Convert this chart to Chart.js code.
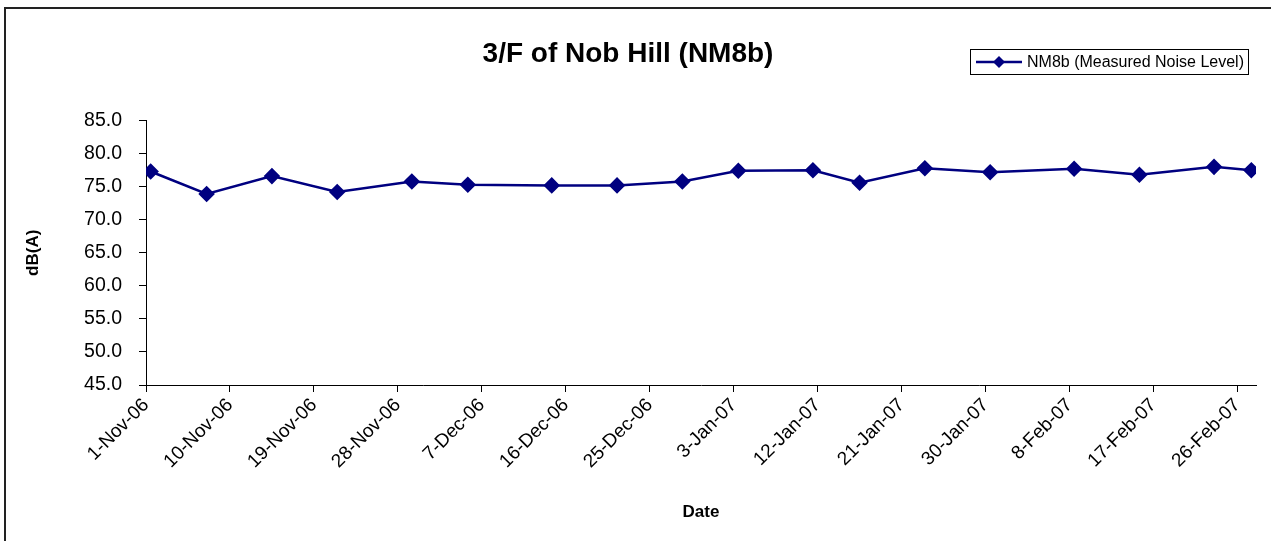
<!DOCTYPE html>
<html>
<head>
<meta charset="utf-8">
<script src="https://cdn.jsdelivr.net/npm/chart.js@4.4.1/dist/chart.umd.min.js"></script>
<style>
  html, body { margin: 0; padding: 0; background: #fff; }
</style>
</head>
<body>
<canvas id="noise-chart" width="1271" height="541"></canvas>
<script>
const seriesLabel = "NM8b (Measured Noise Level)";
const measureDates = [
  "2006-11-01", "2006-11-07", "2006-11-14", "2006-11-21", "2006-11-29", "2006-12-05",
  "2006-12-14", "2006-12-21", "2006-12-28", "2007-01-03", "2007-01-11", "2007-01-16",
  "2007-01-23", "2007-01-30", "2007-02-08", "2007-02-15", "2007-02-23", "2007-02-27"
];
const noiseLevels = [
  77.3, 73.9, 76.6, 74.2, 75.8, 75.3,
  75.2, 75.2, 75.8, 77.4, 77.5, 75.6,
  77.8, 77.2, 77.7, 76.8, 78.0, 77.5
];
const axisStart = "2006-11-01";
const axisEnd = "2007-02-28";
const yMin = 45, yMax = 85, yStep = 5;
const tickEveryDays = 9;
const monthNames = ["Jan","Feb","Mar","Apr","May","Jun","Jul","Aug","Sep","Oct","Nov","Dec"];

const DAY = 86400000;
const t0 = Date.parse(axisStart + "T00:00:00Z");
// excel date axis: a day's point sits in the middle of that day
const dayOf = s => (Date.parse(s + "T12:00:00Z") - t0) / DAY;
const lastDay = (Date.parse(axisEnd + "T00:00:00Z") - t0) / DAY;

function fmtDate(v) {
  const d = new Date(t0 + v * DAY);
  return d.getUTCDate() + "-" + monthNames[d.getUTCMonth()] + "-" + String(d.getUTCFullYear()).slice(2);
}

const navy = "#000080";
const fontFam = "'Liberation Sans', Arial, sans-serif";

const pageBits = {
  id: "pageBits",
  beforeDraw(chart) {
    const ctx = chart.ctx;
    ctx.save();
    ctx.fillStyle = "#fff";
    ctx.fillRect(0, 0, chart.width, chart.height);
    ctx.strokeStyle = "#222";
    ctx.lineWidth = 2;
    ctx.strokeRect(5, 8, chart.width + 20, chart.height + 20);
    ctx.restore();
  },
  afterDraw(chart) {
    // legend box, excel style
    const ctx = chart.ctx;
    const ds = chart.data.datasets[0];
    ctx.save();
    ctx.strokeStyle = "#000";
    ctx.lineWidth = 1;
    ctx.strokeRect(970.5, 49.5, 278, 25);
    ctx.strokeStyle = ds.borderColor;
    ctx.lineWidth = 2.5;
    ctx.beginPath();
    ctx.moveTo(976, 62);
    ctx.lineTo(1022, 62);
    ctx.stroke();
    ctx.fillStyle = ds.backgroundColor;
    ctx.beginPath();
    ctx.moveTo(999, 56); ctx.lineTo(1005, 62); ctx.lineTo(999, 68); ctx.lineTo(993, 62);
    ctx.closePath();
    ctx.fill();
    ctx.fillStyle = "#000";
    ctx.font = "16px " + fontFam;
    ctx.textBaseline = "middle";
    ctx.fillText(ds.label, 1027, 62.5);
    ctx.restore();
  }
};

new Chart(document.getElementById("noise-chart"), {
  type: "line",
  data: {
    datasets: [{
      label: seriesLabel,
      data: measureDates.map((d, i) => ({ x: dayOf(d), y: noiseLevels[i] })),
      borderColor: navy,
      backgroundColor: navy,
      borderWidth: 2.5,
      pointStyle: "rectRot",
      pointRadius: 6.5,
      pointHoverRadius: 6.5,
      tension: 0,
      fill: false
    }]
  },
  options: {
    responsive: false,
    animation: false,
    events: [],
    layout: { padding: { left: 0, right: 15, top: 0, bottom: 0 } },
    plugins: {
      legend: { display: false },
      tooltip: { enabled: false },
      title: {
        display: true,
        text: "3/F of Nob Hill (NM8b)",
        color: "#000",
        font: { family: fontFam, size: 28, weight: "bold" },
        padding: { top: 37, bottom: 50 }
      }
    },
    scales: {
      x: {
        type: "linear",
        min: 0,
        max: lastDay,
        afterFit: s => { s.height = 156; },
        border: { color: "#000", width: 1 },
        grid: { display: true, drawOnChartArea: false, drawTicks: true, tickLength: 7, tickColor: "#000" },
        ticks: {
          stepSize: tickEveryDays,
          includeBounds: false,
          autoSkip: false,
          maxRotation: 45,
          minRotation: 45,
          padding: 2,
          color: "#000",
          font: { family: fontFam, size: 19 },
          callback: v => fmtDate(v)
        },
        title: {
          display: true,
          text: "Date",
          color: "#000",
          font: { family: fontFam, size: 17, weight: "bold" },
          padding: { top: 0, bottom: 18 }
        }
      },
      y: {
        min: yMin,
        max: yMax,
        afterFit: s => { s.width = 146; },
        border: { color: "#000", width: 1 },
        grid: { display: true, drawOnChartArea: false, drawTicks: true, tickLength: 7, tickColor: "#000" },
        ticks: {
          stepSize: yStep,
          padding: 17,
          color: "#000",
          font: { family: fontFam, size: 19.5 },
          callback: v => v.toFixed(1)
        },
        title: {
          display: true,
          text: "dB(A)",
          color: "#000",
          font: { family: fontFam, size: 17, weight: "bold" },
          padding: { top: 23, bottom: 0 }
        }
      }
    }
  },
  plugins: [pageBits]
});
</script>
</body>
</html>
